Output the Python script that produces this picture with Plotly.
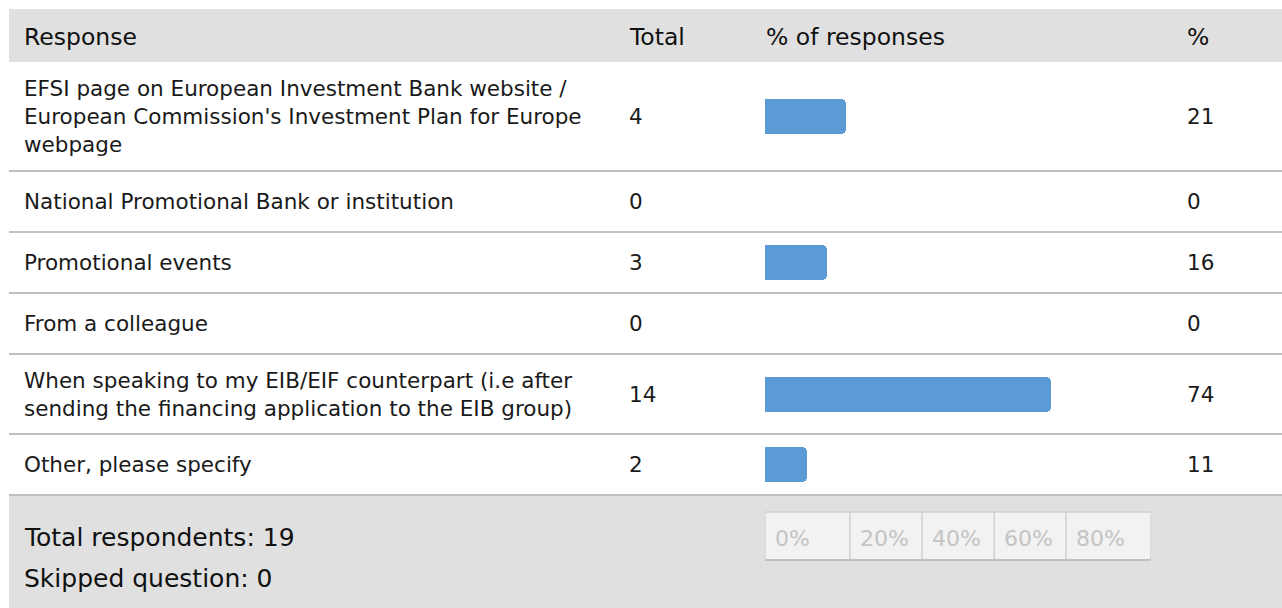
import plotly.graph_objects as go

responses = [
    "EFSI page on European Investment Bank website /<br>European Commission's Investment Plan for Europe<br>webpage",
    "National Promotional Bank or institution",
    "Promotional events",
    "From a colleague",
    "When speaking to my EIB/EIF counterpart (i.e after<br>sending the financing application to the EIB group)",
    "Other, please specify",
]
totals = [4, 0, 3, 0, 14, 2]
percents = [21, 0, 16, 0, 74, 11]
scale_labels = ["0%", "20%", "40%", "60%", "80%"]
total_respondents = 19
skipped = 0

W, H = 1282, 608
# row boundaries in pixels (layout only)
row_edges = [62, 171, 232, 293, 354, 434, 495]
row_mid = [(a + b) / 2 for a, b in zip(row_edges[:-1], row_edges[1:])]
bar_left, bar_right = 765, 1151
scale_edges = [0, 22, 40.7, 59.4, 78, 100]

FONT = "DejaVu Sans"
TXT = "#1a1a1a"

fig = go.Figure()

fig.add_trace(go.Bar(
    x=percents,
    y=row_mid,
    orientation="h",
    width=35,
    marker=dict(color="#5b9bd5", cornerradius=5, line=dict(width=0)),
    xaxis="x2",
    yaxis="y",
    hoverinfo="skip",
    showlegend=False,
))

shapes = []
# header band
shapes.append(dict(type="rect", xref="x", yref="y", x0=9, x1=W, y0=9, y1=62,
                   fillcolor="#e0e0e0", line=dict(width=0), layer="below"))
# footer band
shapes.append(dict(type="rect", xref="x", yref="y", x0=9, x1=W, y0=495, y1=H,
                   fillcolor="#e0e0e0", line=dict(width=0), layer="below"))
# row separators
for e in row_edges[1:]:
    shapes.append(dict(type="line", xref="x", yref="y", x0=9, x1=W, y0=e, y1=e,
                       line=dict(color="#c0c0c0", width=2)))
# scale box
shapes.append(dict(type="rect", xref="x2", yref="y", x0=0, x1=100, y0=512, y1=560,
                   fillcolor="#f2f2f2", line=dict(width=0), layer="below"))
for e in scale_edges:
    shapes.append(dict(type="line", xref="x2", yref="y", x0=e, x1=e, y0=512, y1=560,
                       line=dict(color="#d0d0d0", width=1.5)))
shapes.append(dict(type="line", xref="x2", yref="y", x0=0, x1=100, y0=512, y1=512,
                   line=dict(color="#d0d0d0", width=1.5)))
shapes.append(dict(type="line", xref="x2", yref="y", x0=0, x1=100, y0=560, y1=560,
                   line=dict(color="#c0c0c0", width=2)))

ann = []

def txt(x, y, s, size=21.5, color=TXT, xref="x"):
    ann.append(dict(x=x, y=y, xref=xref, yref="y", text=s, showarrow=False,
                    xanchor="left", yanchor="middle", align="left",
                    font=dict(family=FONT, size=size, color=color)))

# header
txt(22, 37, "Response", size=23.5, color="#111")
txt(627, 37, "Total", size=23.5, color="#111")
txt(764, 37, "% of responses", size=23.5, color="#111")
txt(1185, 37, "%", size=23.5, color="#111")

for r, t, p, m in zip(responses, totals, percents, row_mid):
    txt(22, m, r)
    txt(627, m, str(t))
    txt(1185, m, str(p))

# footer
txt(22, 537, "Total respondents: %d" % total_respondents, size=25, color="#111")
txt(22, 578, "Skipped question: %d" % skipped, size=25, color="#111")
for e, lab in zip(scale_edges[:-1], scale_labels):
    ann.append(dict(x=e, y=538, xref="x2", yref="y", text=lab, showarrow=False,
                    xanchor="left", xshift=8, yanchor="middle",
                    font=dict(family=FONT, size=22, color="#c4c4c4")))

fig.update_layout(
    width=W, height=H,
    margin=dict(l=0, r=0, t=0, b=0),
    paper_bgcolor="white",
    plot_bgcolor="rgba(0,0,0,0)",
    xaxis=dict(range=[0, W], domain=[0, 1], visible=False, fixedrange=True),
    xaxis2=dict(range=[0, 100], domain=[bar_left / W, bar_right / W],
                anchor="y", visible=False, fixedrange=True),
    yaxis=dict(range=[H, 0], domain=[0, 1], visible=False, fixedrange=True),
    shapes=shapes,
    annotations=ann,
    bargap=0,
)

fig.write_html("out.html", config={"displayModeBar": False},
               post_script="document.body.style.margin='0';")
